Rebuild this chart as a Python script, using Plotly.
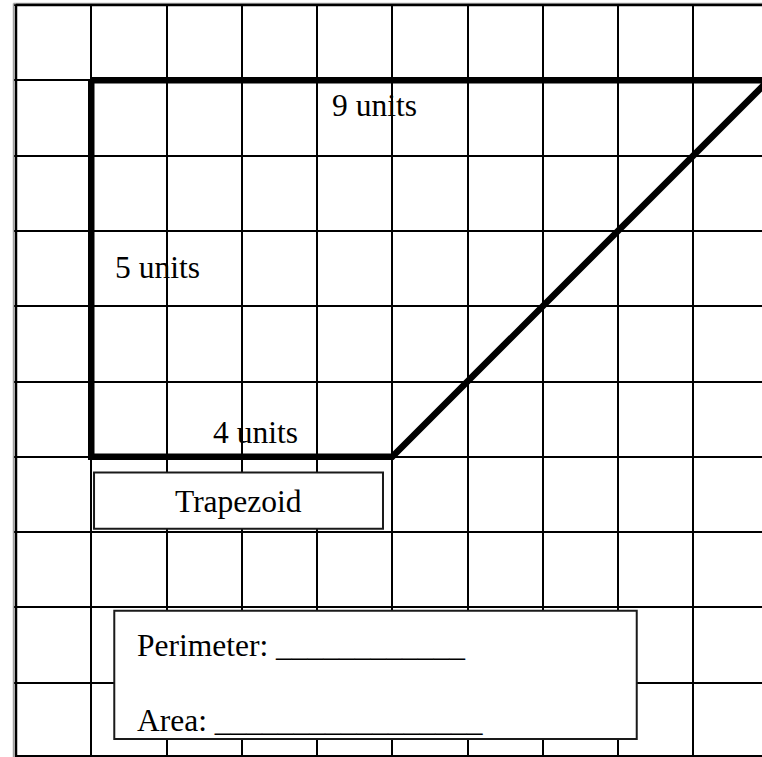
import plotly.graph_objects as go

# ---- data ----
shape_x = [1, 10, 5, 1, 1]          # trapezoid vertices, grid units
shape_y = [1, 1, 6, 6, 1]
label_texts = ["9 units", "5 units", "4 units"]
label_x = [4.173, 1.285, 2.587]
label_y = [1.339, 3.486, 5.673]
title_text = "Trapezoid"
question_texts = ["Perimeter: ____________", "Area: _________________"]

FONT = "Liberation Serif, Times New Roman, serif"
FS = 31.5

fig = go.Figure()
fig.add_trace(go.Scatter(
    x=shape_x, y=shape_y, mode="lines",
    line=dict(color="black", width=6.5),
    hoverinfo="skip", showlegend=False,
))

annotations = []
for t, x, y in zip(label_texts, label_x, label_y):
    annotations.append(dict(x=x, y=y, text=t, showarrow=False, xanchor="left", yanchor="middle",
                            font=dict(family=FONT, size=FS, color="black")))
annotations.append(dict(x=2.959, y=6.59, text=title_text, showarrow=False, xanchor="center", yanchor="middle",
                        font=dict(family=FONT, size=FS, color="black")))
annotations.append(dict(x=1.581, y=8.51, text=question_texts[0], showarrow=False, xanchor="left", yanchor="middle",
                        font=dict(family=FONT, size=FS, color="black")))
annotations.append(dict(x=1.581, y=9.502, text=question_texts[1], showarrow=False, xanchor="left", yanchor="middle",
                        font=dict(family=FONT, size=FS, color="black")))

W, H = 762, 757
shapes = [
    # white margins outside the table
    dict(type="rect", xref="paper", yref="paper", x0=0, x1=13/W, y0=0, y1=1,
         line=dict(width=0), fillcolor="white", layer="above"),
    dict(type="rect", xref="paper", yref="paper", x0=0, x1=1, y0=1 - 3/H, y1=1,
         line=dict(width=0), fillcolor="white", layer="above"),
    # table borders
    dict(type="line", xref="paper", yref="paper", x0=13.5/W, x1=13.5/W, y0=0, y1=1 - 3.5/H,
         line=dict(color="#a0a0a0", width=1.5), layer="above"),
    dict(type="line", xref="paper", yref="paper", x0=13.5/W, x1=1, y0=1 - 3.5/H, y1=1 - 3.5/H,
         line=dict(color="#a0a0a0", width=1.5), layer="above"),
    dict(type="line", xref="paper", yref="paper", x0=16/W, x1=16/W, y0=0, y1=1 - 5/H,
         line=dict(color="black", width=2.5), layer="above"),
    dict(type="line", xref="paper", yref="paper", x0=16/W, x1=1, y0=1 - 5/H, y1=1 - 5/H,
         line=dict(color="black", width=2.5), layer="above"),
    dict(type="line", xref="paper", yref="paper", x0=16/W, x1=1, y0=1 - 756/H, y1=1 - 756/H,
         line=dict(color="black", width=2), layer="above"),
    # text boxes
    dict(type="rect", xref="x", yref="y", x0=1.037, x1=4.877, y0=6.21, y1=6.955,
         line=dict(color="#1a1a1a", width=2), fillcolor="white", layer="above"),
    dict(type="rect", xref="x", yref="y", x0=1.306, x1=8.249, y0=8.044, y1=9.748,
         line=dict(color="#1a1a1a", width=2), fillcolor="white", layer="above"),
]

fig.update_layout(
    width=W, height=H,
    margin=dict(l=0, r=0, t=0, b=0),
    paper_bgcolor="white", plot_bgcolor="white",
    showlegend=False,
    annotations=annotations,
    shapes=shapes,
    xaxis=dict(range=[-16/75.25, (W-16)/75.25], tick0=0, dtick=1, showgrid=True,
               gridcolor="black", gridwidth=1.5, zeroline=False, showticklabels=False,
               ticks="", showline=False, fixedrange=True),
    yaxis=dict(range=[752/75.3, -5/75.3], tick0=0, dtick=1, showgrid=True,
               gridcolor="black", gridwidth=1.5, zeroline=False, showticklabels=False,
               ticks="", showline=False, fixedrange=True),
)

fig.write_html("out.html", config={"displayModeBar": False},
               post_script="document.body.style.margin='0';document.body.style.overflow='hidden';")
